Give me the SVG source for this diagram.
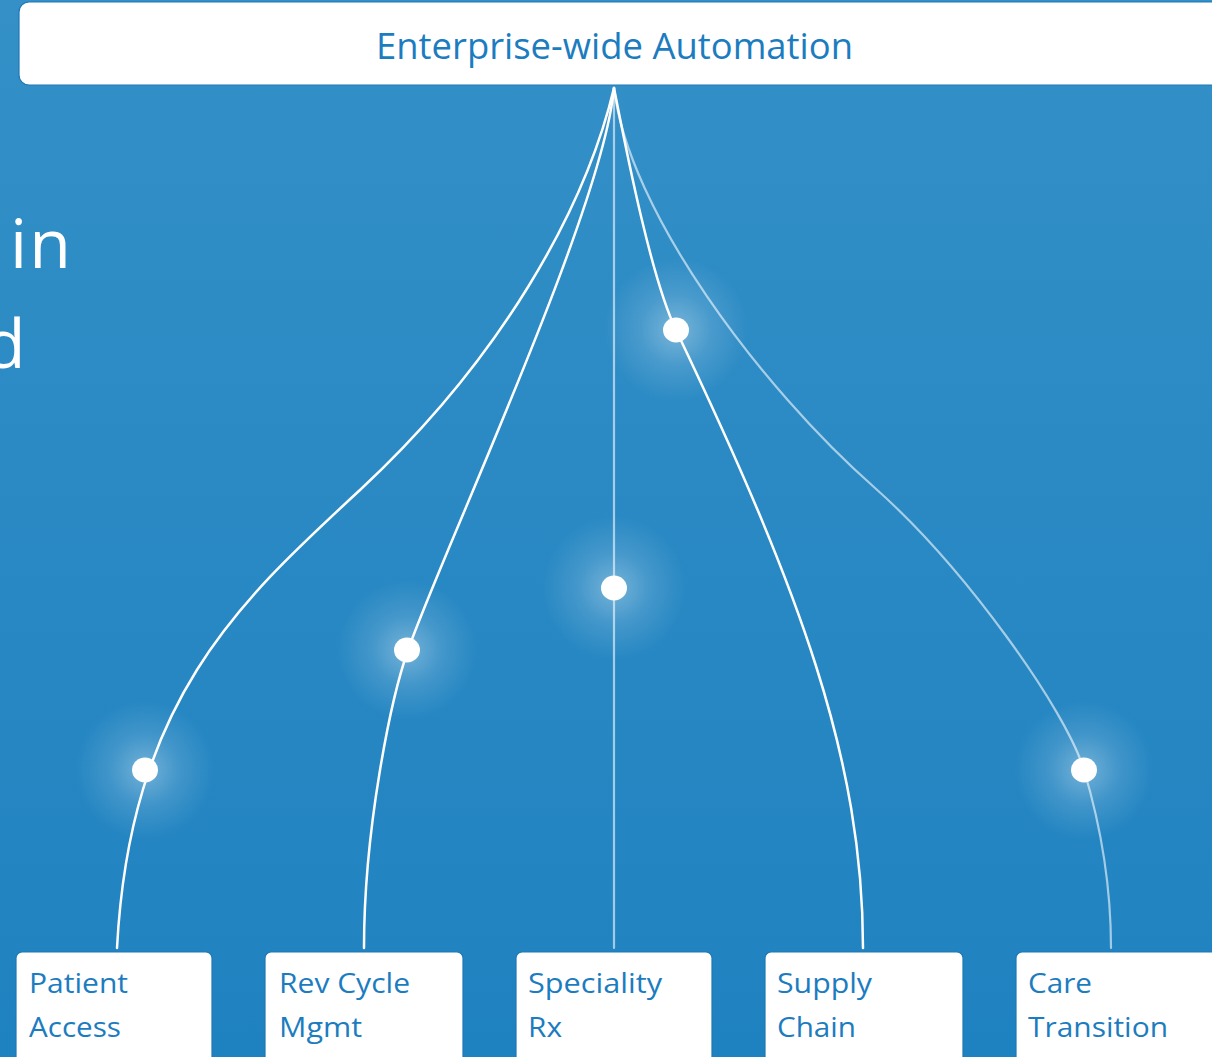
<svg xmlns="http://www.w3.org/2000/svg" width="1212" height="1057" viewBox="0 0 1212 1057">
  <defs>
    <linearGradient id="bg" x1="0" y1="0" x2="0" y2="1">
      <stop offset="0" stop-color="#3490c7"/>
      <stop offset="1" stop-color="#1f82c0"/>
    </linearGradient>
    <radialGradient id="glow">
      <stop offset="0" stop-color="#ffffff" stop-opacity="0.36"/>
      <stop offset="0.5" stop-color="#ffffff" stop-opacity="0.13"/>
      <stop offset="1" stop-color="#ffffff" stop-opacity="0"/>
    </radialGradient>
  </defs>
  <style>
    .box { fill: #ffffff; stroke: #1f78b6; stroke-width: 1.2; }
    .lbl { font-family: "Open Sans", "Noto Sans", sans-serif; font-size: 28px; fill: #1c7cc0; }
    .title { font-family: "Open Sans", "Noto Sans", sans-serif; font-size: 36px; fill: #1c7cc0; }
    .side { font-family: "Open Sans", "Noto Sans", sans-serif; font-size: 68px; fill: #ffffff; }
    .wire { fill: none; stroke: #ffffff; stroke-width: 2.5; stroke-linecap: round; }
    .faint { stroke-opacity: 0.58; stroke-width: 2.2; }
    .dot { fill: #ffffff; }
  </style>

  <rect x="0" y="0" width="1212" height="1057" fill="url(#bg)"/>

  <text class="side" x="10" y="268" letter-spacing="2">in</text>
  <text class="side" x="-16" y="368">d</text>

  <g id="glows">
    <circle cx="145" cy="770" r="70" fill="url(#glow)"/>
    <circle cx="407" cy="650" r="70" fill="url(#glow)"/>
    <circle cx="614" cy="588" r="72" fill="url(#glow)"/>
    <circle cx="676" cy="330" r="72" fill="url(#glow)"/>
    <circle cx="1084" cy="770" r="70" fill="url(#glow)"/>
  </g>

  <g id="connectors">
    <path class="wire" d="M614,88 C585,210 500,360 360,490 C240,601 130,700 117,948"/>
    <path class="wire" d="M614,88 C603,210 443,550 408,650 C390.5,700 364,830 364,948"/>
    <path class="wire faint" d="M614,88 L614,948"/>
    <path class="wire" d="M614,88 C628,160 652,280 676,330 C800,590 863,760 863,948"/>
    <path class="wire faint" d="M614,88 C628,210 760,387 875,488 C965,568 1066,710 1084,770 C1102,830 1111,890 1111,948"/>
  </g>

  <g id="dots">
    <ellipse class="dot" cx="145" cy="770" rx="13" ry="12.5"/>
    <ellipse class="dot" cx="407" cy="650" rx="13" ry="12.5"/>
    <ellipse class="dot" cx="614" cy="588" rx="13" ry="12.5"/>
    <ellipse class="dot" cx="676" cy="330" rx="13" ry="12.5"/>
    <ellipse class="dot" cx="1084" cy="770" rx="13" ry="12.5"/>
  </g>

  <g id="node-top">
    <rect class="box" x="19" y="2" width="1210" height="83" rx="10"/>
    <text class="title" x="376" y="59" textLength="477" lengthAdjust="spacingAndGlyphs">Enterprise-wide Automation</text>
  </g>

  <g id="node-patient-access">
    <rect class="box" x="16" y="952" width="196" height="120" rx="6"/>
    <text class="lbl" x="29" y="993" textLength="99" lengthAdjust="spacingAndGlyphs">Patient</text>
    <text class="lbl" x="29" y="1037" textLength="92" lengthAdjust="spacingAndGlyphs">Access</text>
  </g>
  <g id="node-rev-cycle">
    <rect class="box" x="265" y="952" width="198" height="120" rx="6"/>
    <text class="lbl" x="279" y="993" textLength="131" lengthAdjust="spacingAndGlyphs">Rev Cycle</text>
    <text class="lbl" x="279" y="1037" textLength="83" lengthAdjust="spacingAndGlyphs">Mgmt</text>
  </g>
  <g id="node-speciality-rx">
    <rect class="box" x="516" y="952" width="196" height="120" rx="6"/>
    <text class="lbl" x="528" y="993" textLength="134" lengthAdjust="spacingAndGlyphs">Speciality</text>
    <text class="lbl" x="528" y="1037" textLength="34" lengthAdjust="spacingAndGlyphs">Rx</text>
  </g>
  <g id="node-supply-chain">
    <rect class="box" x="765" y="952" width="198" height="120" rx="6"/>
    <text class="lbl" x="777" y="993" textLength="95" lengthAdjust="spacingAndGlyphs">Supply</text>
    <text class="lbl" x="777" y="1037" textLength="79" lengthAdjust="spacingAndGlyphs">Chain</text>
  </g>
  <g id="node-care-transition">
    <rect class="box" x="1016" y="952" width="210" height="120" rx="6"/>
    <text class="lbl" x="1028" y="993" textLength="64" lengthAdjust="spacingAndGlyphs">Care</text>
    <text class="lbl" x="1028" y="1037" textLength="140" lengthAdjust="spacingAndGlyphs">Transition</text>
  </g>
</svg>
